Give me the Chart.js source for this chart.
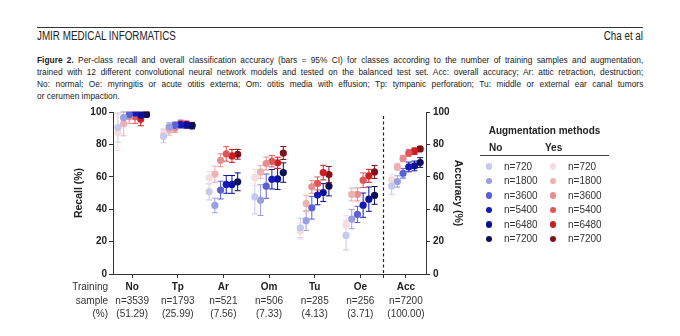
<!DOCTYPE html>
<html>
<head>
<meta charset="utf-8">
<script src="https://cdn.jsdelivr.net/npm/chart.js@4.4.1/dist/chart.umd.min.js"></script>
<style>
  html, body { margin: 0; padding: 0; background: #fff; }
  body { width: 680px; height: 336px; position: relative; overflow: hidden; font-family: "Liberation Sans", Arial, sans-serif; color: #222; }
  #chart { position: absolute; left: 0; top: 0; }
  .narrow { font-family: "Liberation Sans Narrow", "Arial Narrow", "Liberation Sans", sans-serif; transform-origin: left top; }
  #rule { position: absolute; left: 37px; top: 27px; width: 606px; border-top: 1.5px solid #333; }
  #journal { position: absolute; left: 37px; top: 29px; font-size: 12px; transform: scaleX(0.82); }
  #authors { position: absolute; right: 37px; top: 29px; font-size: 12px; transform: scaleX(0.82); transform-origin: right top; }
  #caption { position: absolute; left: 37px; top: 54px; width: 689px; font-size: 9.5px; line-height: 12px; transform: scaleX(0.88); color: #1a1a1a; }
  #caption div { text-align: justify; text-align-last: justify; white-space: nowrap; }
  #caption div.last { text-align-last: left; }
  #legend { position: absolute; left: 480px; top: 124px; width: 129px; font-size: 10px; }
  #legend .title { text-align: center; font-weight: bold; height: 13px; line-height: 13px; }
  #legend .head { position: relative; height: 14px; line-height: 14px; font-weight: bold; border-bottom: 1.2px solid #444; margin-top: 4px; }
  #legend .head span { position: absolute; top: 0; }
  #rows { display: grid; grid-template-columns: 18px 46px 18px 47px; grid-auto-rows: 14.5px; align-items: center; margin-top: 3px; color: #333; }
  #rows .dot { width: 6.5px; height: 6.5px; border-radius: 50%; justify-self: center; }
  #rows .lab { padding-left: 6px; }
</style>
</head>
<body>
<div id="rule"></div>
<div id="journal" class="narrow">JMIR MEDICAL INFORMATICS</div>
<div id="authors" class="narrow">Cha et al</div>
<div id="caption" class="narrow">
  <div><b>Figure 2.</b> Per-class recall and overall classification accuracy (bars = 95% CI) for classes according to the number of training samples and augmentation,</div>
  <div>trained with 12 different convolutional neural network models and tested on the balanced test set. Acc: overall accuracy; Ar: attic retraction, destruction;</div>
  <div>No: normal; Oe: myringitis or acute otitis externa; Om: otitis media with effusion; Tp: tympanic perforation; Tu: middle or external ear canal tumors</div>
  <div class="last">or cerumen impaction.</div>
</div>
<canvas id="chart" width="680" height="336"></canvas>
<div id="legend">
  <div class="title">Augmentation methods</div>
  <div class="head"><span style="left:9px">No</span><span style="left:65px">Yes</span></div>
  <div id="rows"></div>
</div>
<script>
const categories = ['No', 'Tp', 'Ar', 'Om', 'Tu', 'Oe', 'Acc'];
const trainCounts = ['n=3539', 'n=1793', 'n=521', 'n=506', 'n=285', 'n=256', 'n=7200'];
const trainShares = ['(51.29)', '(25.99)', '(7.56)', '(7.33)', '(4.13)', '(3.71)', '(100.00)'];
const rowLabels = ['Training', 'sample', '(%)'];
const sampleSizes = ['n=720', 'n=1800', 'n=3600', 'n=5400', 'n=6480', 'n=7200'];

const noColors = ['#c6c8ee', '#9a9ee3', '#5a60d6', '#1419b8', '#0b1096', '#0b0e55'];
const yesColors = ['#f5dcdd', '#efb0b1', '#e98c8d', '#df5658', '#d11c20', '#80121a'];

// recall (%) per class; last column (Acc) is overall accuracy
const no720  = [90.4, 85.0, 50.7, 47.6, 28.5, 23.8, 54.2];
const no1800 = [96.5, 90.8, 42.3, 45.6, 32.9, 33.9, 57.1];
const no3600 = [98.4, 91.8, 51.8, 54.2, 40.9, 36.8, 62.2];
const no5400 = [99.4, 92.2, 55.3, 58.5, 48.7, 42.5, 66.1];
const no6480 = [98.0, 92.0, 55.3, 58.7, 50.3, 46.2, 66.7];
const no7200 = [98.5, 91.6, 56.9, 62.6, 54.2, 48.5, 68.8];

const yes720  = [87.3, 86.8, 59.3, 59.6, 26.5, 30.2, 58.3];
const yes1800 = [92.8, 88.7, 61.6, 63.0, 43.5, 49.1, 66.1];
const yes3600 = [97.0, 90.0, 70.2, 68.2, 53.8, 49.1, 71.3];
const yes5400 = [97.0, 93.0, 74.1, 69.6, 55.9, 57.9, 74.7];
const yes6480 = [95.5, 92.4, 72.9, 68.6, 62.6, 60.6, 75.8];
const yes7200 = [98.6, 91.6, 73.9, 74.7, 61.4, 63.0, 77.2];

// half width of the 95% CI
const no720ci  = [9.0, 4.0, 5.0, 10.5, 6.0, 9.0, 5.0];
const no1800ci = [4.0, 2.5, 4.5, 9.5, 6.0, 6.0, 3.5];
const no3600ci = [2.0, 2.0, 5.5, 7.5, 7.0, 5.0, 3.0];
const no5400ci = [1.0, 2.0, 5.5, 6.0, 6.0, 7.5, 3.0];
const no6480ci = [2.0, 2.0, 5.5, 6.5, 5.5, 7.5, 3.0];
const no7200ci = [1.5, 2.0, 5.5, 6.0, 6.0, 5.5, 3.0];

const yes720ci  = [11.0, 3.0, 4.0, 5.0, 5.0, 6.0, 3.0];
const yes1800ci = [7.5, 3.0, 5.0, 4.0, 5.0, 4.0, 2.0];
const yes3600ci = [4.0, 2.5, 4.0, 4.0, 4.0, 4.0, 2.0];
const yes5400ci = [4.0, 2.0, 4.5, 3.5, 4.0, 4.5, 2.0];
const yes6480ci = [4.0, 2.0, 4.0, 3.5, 4.5, 4.0, 2.0];
const yes7200ci = [1.5, 1.5, 3.0, 4.0, 5.0, 4.0, 1.5];

const noMeans = [no720, no1800, no3600, no5400, no6480, no7200];
const noCis = [no720ci, no1800ci, no3600ci, no5400ci, no6480ci, no7200ci];
const yesMeans = [yes720, yes1800, yes3600, yes5400, yes6480, yes7200];
const yesCis = [yes720ci, yes1800ci, yes3600ci, yes5400ci, yes6480ci, yes7200ci];

const divider = 5.5;   // dashed line between classes and Acc
const dodge = 0.125;   // spread of the six sample sizes inside a class

const FONT = '"Liberation Sans", Arial, sans-serif';

function makeSets(means, cis, colors) {
    return means.map((vals, s) => ({
        label: sampleSizes[s],
        data: vals.map((v, i) => ({ x: i + (s - 2.5) * dodge, y: v, ci: cis[s][i] })),
        backgroundColor: colors[s],
        borderColor: colors[s],
        borderWidth: 0,
        pointRadius: 3.6,
        pointHoverRadius: 3.6
    }))
}

const datasets = makeSets(noMeans, noCis, noColors).concat(makeSets(yesMeans, yesCis, yesColors));

const errorBars = {
    id: 'errorBars',
    beforeDatasetsDraw(chart) {
        const { ctx, scales: { x, y } } = chart;
        chart.data.datasets.forEach(ds => {
            ctx.save();
            ctx.strokeStyle = ds.borderColor;
            ctx.lineWidth = 1;
            ds.data.forEach(p => {
                const px = x.getPixelForValue(p.x);
                const top = y.getPixelForValue(Math.min(100, p.y + p.ci));
                const bot = y.getPixelForValue(p.y - p.ci);
                ctx.beginPath();
                ctx.moveTo(px, top); ctx.lineTo(px, bot);
                ctx.moveTo(px - 3, top); ctx.lineTo(px + 3, top);
                ctx.moveTo(px - 3, bot); ctx.lineTo(px + 3, bot);
                ctx.stroke();
            })
            ctx.restore();
        })
    }
}

const extras = {
    id: 'extras',
    afterDraw(chart) {
        const { ctx, scales: { x, y } } = chart;
        ctx.save();
        // dashed divider
        const dx = Math.round(x.getPixelForValue(divider)) + 0.5;
        ctx.strokeStyle = '#222';
        ctx.lineWidth = 1.2;
        ctx.setLineDash([3, 2.5]);
        ctx.beginPath();
        ctx.moveTo(dx, y.getPixelForValue(97.5));
        ctx.lineTo(dx, y.getPixelForValue(0));
        ctx.stroke();
        ctx.setLineDash([]);

        // training sample table under the axis
        ctx.fillStyle = '#333';
        ctx.font = '10px ' + FONT;
        ctx.textBaseline = 'middle';
        const rows = [x.top + 13, x.top + 27, x.top + 40.5];
        ctx.textAlign = 'right';
        rowLabels.forEach((t, r) => ctx.fillText(t, y.right - 5, rows[r]));
        ctx.textAlign = 'center';
        categories.forEach((c, i) => {
            const px = x.getPixelForValue(i);
            ctx.fillText(trainCounts[i], px, rows[1]);
            ctx.fillText(trainShares[i], px, rows[2]);
        })
        ctx.restore();
    }
}

const axisGrid = { drawOnChartArea: false, drawTicks: true, tickLength: 4, color: '#333' };

const config = {
    type: 'scatter',
    data: { datasets: datasets },
    options: {
        responsive: false,
        animation: false,
        devicePixelRatio: 1,
        layout: { padding: { left: 73, top: 112, right: 216, bottom: 0 } },
        plugins: {
            legend: { display: false },
            tooltip: { enabled: false }
        },
        scales: {
            x: {
                type: 'linear',
                min: -0.42,
                max: 6.44,
                afterBuildTicks: (s) => {
                    s.ticks = categories.map((c, i) => ({ value: i })).concat([{ value: divider }]);
                },
                afterFit: (s) => { s.height = 62 },
                ticks: {
                    autoSkip: false,
                    maxRotation: 0,
                    padding: 3,
                    color: '#222',
                    font: { family: FONT, size: 10, weight: 'bold' },
                    callback: (v) => categories[v] ?? ''
                },
                grid: axisGrid,
                border: { color: '#333', width: 1 }
            },
            y: {
                position: 'left',
                min: 0,
                max: 100,
                afterFit: (s) => { s.width = 40 },
                ticks: { stepSize: 20, padding: 2, color: '#222', font: { family: FONT, size: 10, weight: 'bold' } },
                grid: axisGrid,
                border: { color: '#333', width: 1 },
                title: { display: true, text: 'Recall (%)', color: '#222', padding: 0, font: { family: FONT, size: 10.5, weight: 'bold' } }
            },
            y2: {
                position: 'right',
                min: 0,
                max: 100,
                afterFit: (s) => { s.width = 38 },
                ticks: { stepSize: 20, padding: 3, color: '#222', font: { family: FONT, size: 10, weight: 'bold' } },
                grid: axisGrid,
                border: { color: '#333', width: 1 },
                title: { display: true, text: 'Accuracy (%)', color: '#222', padding: 0, font: { family: FONT, size: 10.5, weight: 'bold' } }
            }
        }
    },
    plugins: [errorBars, extras]
};

new Chart(document.getElementById('chart').getContext('2d'), config);

// legend table
const rowsEl = document.getElementById('rows');
sampleSizes.forEach((n, s) => {
    rowsEl.insertAdjacentHTML('beforeend',
        `<span class="dot" style="background:${noColors[s]}"></span><span class="lab">${n}</span>` +
        `<span class="dot" style="background:${yesColors[s]}"></span><span class="lab">${n}</span>`);
})
</script>
</body>
</html>
